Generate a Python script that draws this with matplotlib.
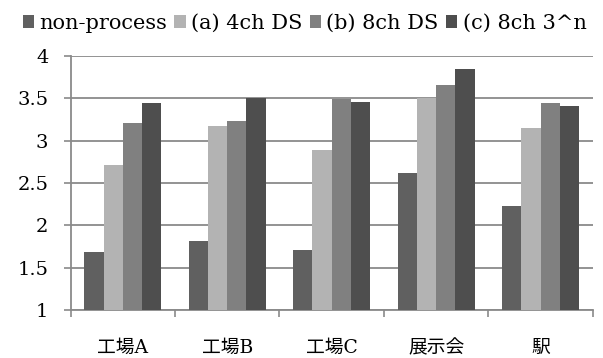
import matplotlib
matplotlib.use("Agg")
import matplotlib.pyplot as plt
import numpy as np

plt.rcParams['font.family'] = ['DejaVu Serif', 'Noto Sans CJK JP']

categories = ["工場A", "工場B", "工場C", "展示会", "駅"]
series_names = ["non-process", "(a) 4ch DS", "(b) 8ch DS", "(c) 8ch 3^n"]
non_process = [1.68, 1.81, 1.71, 2.62, 2.23]
ch4_ds = [2.71, 3.17, 2.89, 3.50, 3.15]
ch8_ds = [3.21, 3.23, 3.49, 3.66, 3.45]
ch8_3n = [3.45, 3.51, 3.46, 3.85, 3.41]
y_ticks = [1, 1.5, 2, 2.5, 3, 3.5, 4]

colors = ["#606060", "#b3b3b3", "#808080", "#4e4e4e"]
series = [non_process, ch4_ds, ch8_ds, ch8_3n]

fig = plt.figure(figsize=(6.03, 3.58), dpi=100)
ax = fig.add_axes([0.117, 0.134, 0.866, 0.7095])

x = np.arange(len(categories))
bw = 0.184
for i, (vals, c, name) in enumerate(zip(series, colors, series_names)):
    offs = (i - 1.5) * bw
    ax.bar(x + offs, np.array(vals) - 1, bottom=1, width=bw, color=c,
           label=name, zorder=3, linewidth=0)

ax.set_xlim(-0.5, len(categories) - 0.5)
ax.set_ylim(1, 4)
ax.set_yticks(y_ticks)
ax.set_yticklabels([f"{v:g}" for v in y_ticks], fontsize=14)
ax.yaxis.grid(True, color="#8a8a8a", linewidth=1.3, zorder=0)
ax.set_axisbelow(True)

# category boundaries carry the tick marks, centres carry the labels
ax.set_xticks(np.arange(len(categories) + 1) - 0.5)
ax.set_xticklabels([])
ax.set_xticks(x, minor=True)
ax.set_xticklabels(categories, minor=True, fontsize=13.5)
ax.tick_params(axis="x", which="major", length=5, width=1.2, color="#8a8a8a", direction="out")
ax.tick_params(axis="x", which="minor", length=0, pad=21)
ax.tick_params(axis="y", length=5, width=1.2, color="#8a8a8a", direction="out", pad=11)

for s in ["top", "right"]:
    ax.spines[s].set_visible(False)
for s in ["left", "bottom"]:
    ax.spines[s].set_color("#8a8a8a")
    ax.spines[s].set_linewidth(1.3)

fig.legend(loc="center", bbox_to_anchor=(0.505, 0.935), ncol=4, frameon=False,
           fontsize=15, handlelength=0.55, handleheight=0.55, handletextpad=0.25,
           columnspacing=0.35, borderaxespad=0)

fig.savefig("out.png", dpi=100)
